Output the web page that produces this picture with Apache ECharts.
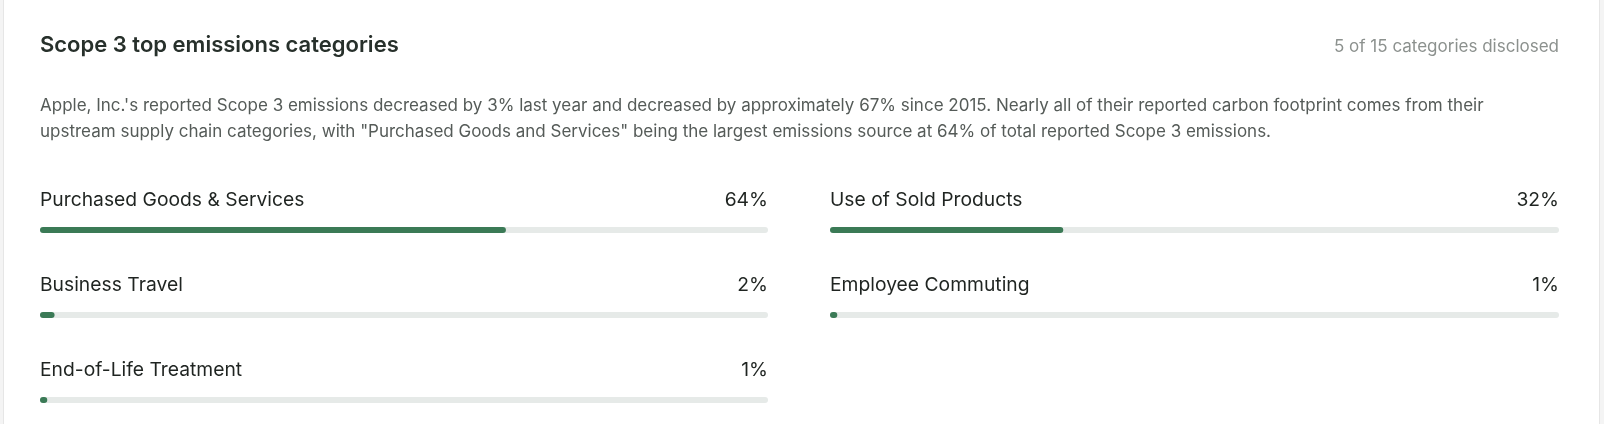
<!DOCTYPE html>
<html>
<head>
<meta charset="utf-8">
<script src="https://cdn.jsdelivr.net/npm/echarts@6/dist/echarts.min.js"></script>
<style>
html,body{margin:0;padding:0;background:#f4f4f4;}
#chart{width:1604px;height:424px;}
</style>
</head>
<body>
<div id="chart"></div>
<script>
const chartTitle = 'Scope 3 top emissions categories';
const disclosedNote = '5 of 15 categories disclosed';
const summaryLines = [
  'Apple, Inc.\'s reported Scope 3 emissions decreased by 3% last year and decreased by approximately 67% since 2015. Nearly all of their reported carbon footprint comes from their',
  'upstream supply chain categories, with "Purchased Goods and Services" being the largest emissions source at 64% of total reported Scope 3 emissions.'
];
const leftCategories = ['Purchased Goods & Services', 'Business Travel', 'End-of-Life Treatment'];
const leftShares = [64, 2, 1];
const rightCategories = ['Use of Sold Products', 'Employee Commuting'];
const rightShares = [32, 1];
const fullScale = 100;

const FONT = 'Inter, "Noto Sans", sans-serif';
const GREEN = '#3b7a56';
const TRACK = '#e6eae8';

function makeSeries(cats, vals, idx) {
  return [
    {
      type: 'bar',
      xAxisIndex: idx, yAxisIndex: idx,
      data: cats.map(() => fullScale),
      barWidth: 6,
      barGap: '-100%',
      silent: true,
      itemStyle: { color: TRACK, borderRadius: 3 },
      label: {
        show: true,
        position: ['100%', -27],
        align: 'right',
        verticalAlign: 'middle',
        formatter: p => vals[p.dataIndex] + '%',
        color: '#1f2421',
        fontSize: 19.3,
        fontFamily: FONT
      },
      z: 1
    },
    {
      type: 'bar',
      xAxisIndex: idx, yAxisIndex: idx,
      data: vals,
      barWidth: 6,
      barGap: '-100%',
      silent: true,
      itemStyle: { color: GREEN, borderRadius: 3 },
      label: {
        show: true,
        position: [0, -27],
        align: 'left',
        verticalAlign: 'middle',
        formatter: p => cats[p.dataIndex],
        color: '#1f2421',
        fontSize: 19.3,
        fontFamily: FONT
      },
      z: 2
    }
  ];
}

const chart = echarts.init(document.getElementById('chart'), null, { renderer: 'canvas' });
chart.setOption({
  backgroundColor: '#f4f4f4',
  animation: false,
  graphic: [
    {
      type: 'rect',
      shape: { x: 3.5, y: -10, width: 1596, height: 450 },
      style: { fill: '#ffffff', stroke: '#e6e6e6', lineWidth: 1 },
      z: -10
    }
  ],
  title: [
    {
      text: chartTitle,
      left: 40, top: 34, padding: 0,
      textStyle: { fontFamily: FONT, fontSize: 22, fontWeight: 600, color: '#27302b' }
    },
    {
      text: disclosedNote,
      right: 45, top: 38, padding: 0,
      textStyle: { fontFamily: FONT, fontSize: 17, fontWeight: 400, color: '#8c918e' }
    },
    {
      text: summaryLines.join('\n'),
      left: 40, top: 93, padding: 0,
      textStyle: { fontFamily: FONT, fontSize: 17, fontWeight: 400, color: '#555b58', lineHeight: 25.6 }
    }
  ],
  grid: [
    { left: 40, width: 728, top: 187.5, height: 255, outerBoundsMode: 'none' },
    { left: 830, width: 729, top: 187.5, height: 170, outerBoundsMode: 'none' }
  ],
  xAxis: [
    { gridIndex: 0, type: 'value', min: 0, max: fullScale, show: false },
    { gridIndex: 1, type: 'value', min: 0, max: fullScale, show: false }
  ],
  yAxis: [
    { gridIndex: 0, type: 'category', data: leftCategories, inverse: true, show: false },
    { gridIndex: 1, type: 'category', data: rightCategories, inverse: true, show: false }
  ],
  series: [
    ...makeSeries(leftCategories, leftShares, 0),
    ...makeSeries(rightCategories, rightShares, 1)
  ]
});
</script>
</body>
</html>
